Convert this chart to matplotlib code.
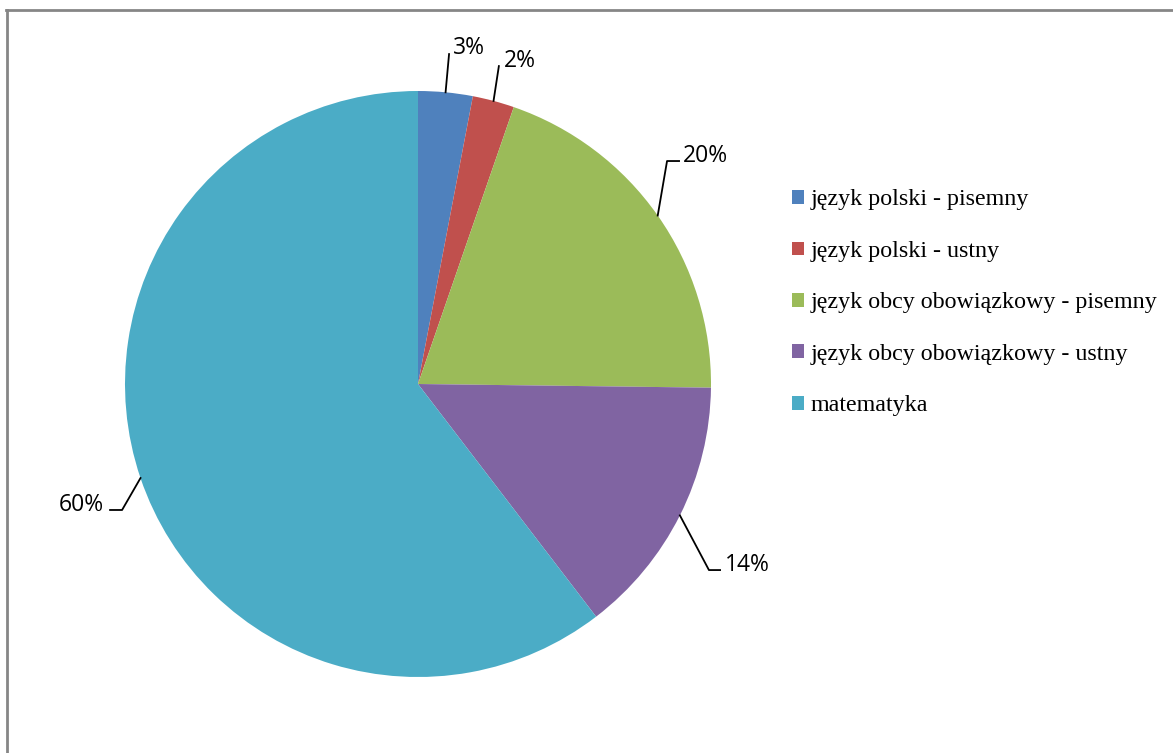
import numpy as np
import matplotlib
matplotlib.use("Agg")
import matplotlib.pyplot as plt
from matplotlib.lines import Line2D

# dane
przedmioty = ["język polski - pisemny", "język polski - ustny",
              "język obcy obowiązkowy - pisemny", "język obcy obowiązkowy - ustny",
              "matematyka"]
udzial = [3.0, 2.3, 19.9, 14.4, 60.4]
kolory = ["#4F81BD", "#C0504D", "#9BBB59", "#8064A2", "#4BACC6"]

# polozenie etykiet (w promieniach kola): punkty linii od kolana do tekstu, tekst, wyrownanie
etykiety_uklad = [
    ([(0.106, 1.126)], (0.119, 1.126), "left"),
    ([(0.276, 1.085)], (0.294, 1.082), "left"),
    ([(0.850, 0.761), (0.891, 0.761)], (0.904, 0.758), "left"),
    ([(0.993, -0.635), (1.031, -0.635)], (1.048, -0.638), "left"),
    ([(-1.010, -0.430), (-1.051, -0.430)], (-1.072, -0.433), "right"),
]

W, H = 1173, 753
fig = plt.figure(figsize=(W / 100, H / 100), dpi=100)
ax = fig.add_axes([125 / W, 76 / H, 586 / W, 586 / H])

wedges, _ = ax.pie(udzial, colors=kolory, startangle=90, counterclock=False,
                   radius=1, wedgeprops=dict(linewidth=0))
ax.set_xlim(-1, 1)
ax.set_ylim(-1, 1)
ax.set_aspect("equal")
ax.axis("off")

suma = sum(udzial)
for w, v, (pkt, txt, ha) in zip(wedges, udzial, etykiety_uklad):
    kat = np.deg2rad((w.theta1 + w.theta2) / 2)
    xs = [np.cos(kat)] + [p[0] for p in pkt]
    ys = [np.sin(kat)] + [p[1] for p in pkt]
    ax.plot(xs, ys, color="black", lw=1.3, clip_on=False)
    ax.text(txt[0], txt[1], "%d%%" % round(v / suma * 100), ha=ha, va="baseline",
            fontsize=16.5, family="Open Sans", color="black")

fig.legend(wedges, przedmioty, loc="upper left", bbox_to_anchor=(792 / W, 1 - 189.5 / H),
           frameon=False, prop={"family": "Liberation Serif", "size": 17.25},
           handlelength=0.5, handleheight=0.5, handletextpad=0.28,
           labelspacing=1.27, borderpad=0, borderaxespad=0)

# ramka
fig.add_artist(Line2D([6 / W, 1], [1 - 10 / H, 1 - 10 / H], transform=fig.transFigure,
                      color="#868686", lw=2))
fig.add_artist(Line2D([7 / W, 7 / W], [0, 1 - 10 / H], transform=fig.transFigure,
                      color="#868686", lw=2))

fig.savefig("out.png", dpi=100)
